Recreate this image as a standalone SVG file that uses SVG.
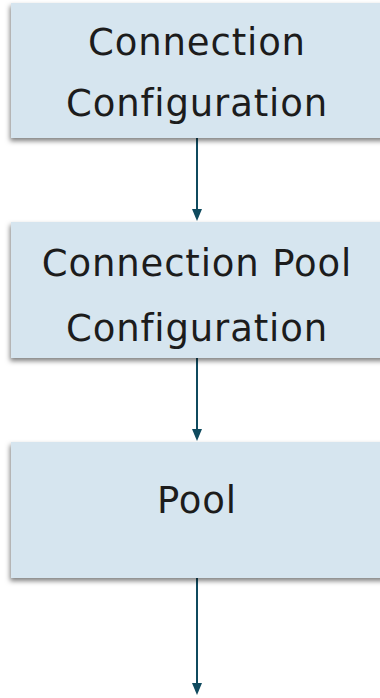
<svg xmlns="http://www.w3.org/2000/svg" width="380" height="698" viewBox="0 0 380 698">
  <style>
    .box { fill: #d6e5ef; filter: url(#shadow); }
    .label { font-family: "DejaVu Sans", "Open Sans", sans-serif; font-size: 37px; letter-spacing: 0.85px; fill: #1c1c1c; text-anchor: middle; }
    .edge { stroke: #0f4a5e; stroke-width: 2; fill: none; }
    .head { fill: #0f4a5e; }
  </style>
  <defs>
    <filter id="shadow" x="-10%" y="-20%" width="120%" height="140%">
      <feDropShadow dx="-1" dy="3" stdDeviation="2.5" flood-color="#000" flood-opacity="0.5"/>
    </filter>
  </defs>

  <g id="connectors">
    <line class="edge" x1="197" y1="138" x2="197" y2="211"/>
    <polygon class="head" points="192,209 202,209 197,221"/>
    <line class="edge" x1="197" y1="358" x2="197" y2="431"/>
    <polygon class="head" points="192,429 202,429 197,441"/>
    <line class="edge" x1="197" y1="578" x2="197" y2="685"/>
    <polygon class="head" points="192,683 202,683 197,695"/>
  </g>

  <g id="connection-config">
    <rect class="box" x="11" y="3" width="375" height="135"/>
    <text class="label" x="197" y="55">Connection</text>
    <text class="label" x="197" y="116">Configuration</text>
  </g>

  <g id="pool-config">
    <rect class="box" x="11" y="222" width="375" height="136"/>
    <text class="label" x="197" y="276">Connection Pool</text>
    <text class="label" x="197" y="341">Configuration</text>
  </g>

  <g id="pool">
    <rect class="box" x="11" y="442" width="375" height="136"/>
    <text class="label" x="197" y="513">Pool</text>
  </g>
</svg>
